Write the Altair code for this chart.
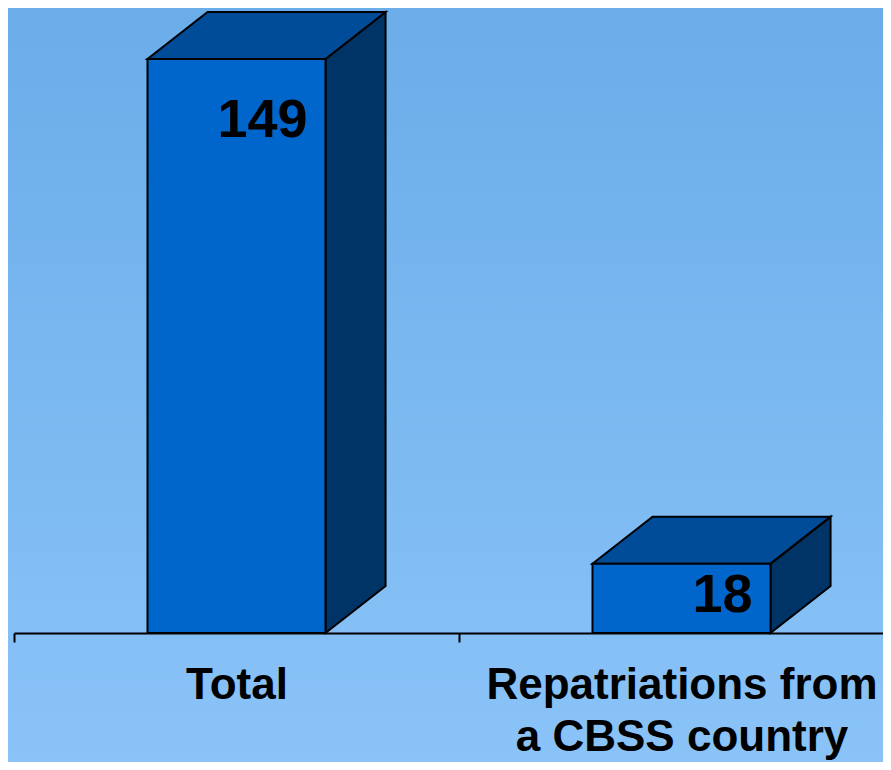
import json
import altair as alt
import pandas as pd

# ---- data ----
categories = ["Total", "Repatriations from\na CBSS country"]
values = [149, 18]

# ---- style constants ----
FRONT = "#0066cc"
TOP = "#004c99"
SIDE = "#003366"
BG_TOP = "#6aade9"
BG_BOTTOM = "#8ac3f8"
FONT = "Liberation Sans"
HALF = 0.2      # half bar width (band units)
DX = 0.135      # 3D depth along x (band units)
DY = 12.2       # 3D depth along y (value units)
W, H = 875, 754

front_rows, side_rows, top_rows = [], [], []
for i, (c, v) in enumerate(zip(categories, values)):
    front_rows.append(dict(cat=c, x=i - HALF, x2=i + HALF, y=0, y2=v, xr=i + HALF, value=v))
    side_rows += [dict(cat=c, x=i + HALF, y=0, y2=v),
                  dict(cat=c, x=i + HALF + DX, y=DY, y2=v + DY)]
    top_rows += [dict(cat=c, x=i - HALF, y=v, y2=v),
                 dict(cat=c, x=i - HALF + DX, y=v, y2=v + DY),
                 dict(cat=c, x=i + HALF, y=v, y2=v + DY),
                 dict(cat=c, x=i + HALF + DX, y=v + DY, y2=v + DY)]

front_df = pd.DataFrame(front_rows)
side_df = pd.DataFrame(side_rows)
top_df = pd.DataFrame(top_rows)

xs = alt.Scale(domain=[-0.5, -0.5 + (W - 6) / 445], range=[6, W], nice=False, zero=False)
ys = alt.Scale(domain=[0, 162.24], range=[625, 0], nice=False, zero=False)

label_lines = [c.split("\n") for c in categories]
label_expr = f"{json.dumps(label_lines)}[round(datum.value)]"
AX_OFF = 625 - H

tick_axis = alt.Axis(orient="bottom", values=[-0.5, 0.5, 1.5], labels=False, ticks=True,
                     tickSize=9, tickWidth=2, tickColor="black", domain=True,
                     domainColor="black", domainWidth=2, grid=False, title=None,
                     offset=AX_OFF, zindex=1)
label_axis = alt.Axis(orient="bottom", values=[0, 1], labels=True, ticks=False, tickSize=0,
                      domain=False, grid=False, title=None, offset=AX_OFF, zindex=1,
                      labelExpr=label_expr, labelFont=FONT, labelFontSize=44,
                      labelFontWeight="bold", labelColor="black", labelPadding=30,
                      labelLineHeight=52, labelLimit=2000, labelOverlap=False,
                      labelFlush=False, labelBound=False, labelAlign="center")

bg = alt.Chart(pd.DataFrame({"a": [0]})).mark_rect(
    color=alt.Gradient(gradient="linear",
                       stops=[alt.GradientStop(color=BG_TOP, offset=0),
                              alt.GradientStop(color=BG_BOTTOM, offset=1)],
                       x1=0, x2=0, y1=0, y2=1)
).encode(x=alt.value(0), x2=alt.value("width"), y=alt.value(0), y2=alt.value("height"))

side = alt.Chart(side_df).mark_area(orient="vertical", color=SIDE, stroke="black",
                                    strokeWidth=2, strokeJoin="miter", clip=False).encode(
    x=alt.X("x:Q", scale=xs, axis=None),
    y=alt.Y("y:Q", scale=ys, axis=None, stack=None),
    y2="y2:Q",
    detail="cat:N",
)

top = alt.Chart(top_df).mark_area(orient="vertical", color=TOP, stroke="black",
                                  strokeWidth=2, strokeJoin="miter", clip=False).encode(
    x=alt.X("x:Q", scale=xs, axis=None),
    y=alt.Y("y:Q", scale=ys, axis=None, stack=None),
    y2="y2:Q",
    detail="cat:N",
)

front = alt.Chart(front_df).mark_rect(color=FRONT, stroke="black", strokeWidth=2,
                                      strokeJoin="miter").encode(
    x=alt.X("x:Q", scale=xs, axis=tick_axis),
    x2="x2:Q",
    y=alt.Y("y:Q", scale=ys, axis=None),
    y2="y2:Q",
)

text = alt.Chart(front_df).mark_text(
    align="right", baseline="alphabetic", dx=-18,
    dy=alt.expr("datum.value > 100 ? 78 : 48"),
    font=FONT, fontSize=54, fontWeight="bold", color="black"
).encode(
    x=alt.X("xr:Q", scale=xs, axis=label_axis),
    y=alt.Y("value:Q", scale=ys, axis=None),
    text=alt.Text("value:Q"),
)

chart = alt.layer(bg, side, top, front, text).resolve_axis(x="independent").properties(
    width=W, height=H, padding=0,
    autosize=alt.AutoSizeParams(type="none"),
).configure_view(strokeWidth=0).configure(background=BG_TOP)

chart.save("out.html", embed_options={"renderer": "svg", "actions": False})
